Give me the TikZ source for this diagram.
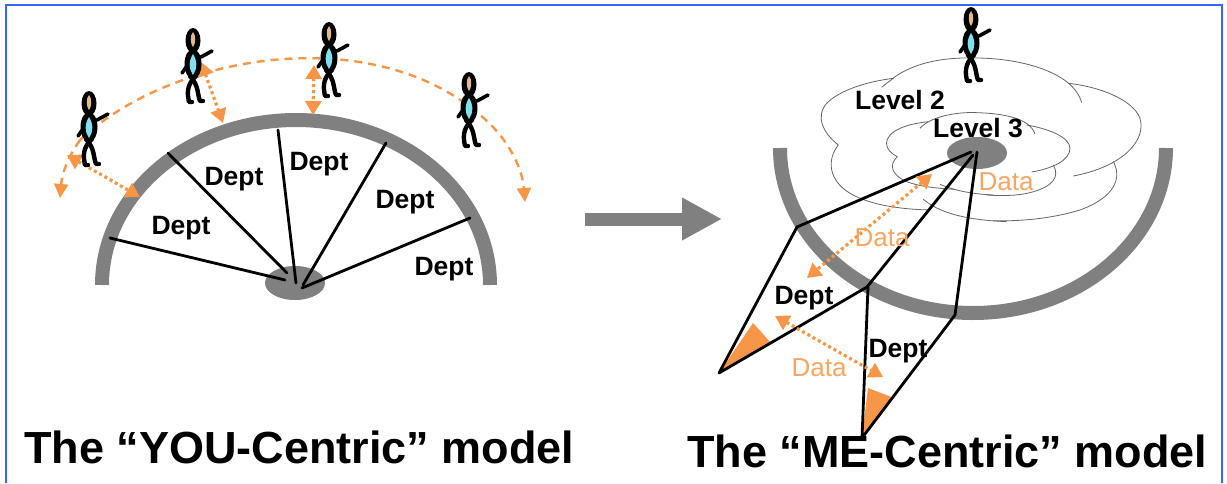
\documentclass[tikz,border=0pt]{standalone}
\usepackage{fontspec}
\setmainfont{Liberation Sans}
\usetikzlibrary{arrows.meta}
\definecolor{og}{HTML}{F79646}
\definecolor{gr}{HTML}{808080}
\definecolor{bl}{HTML}{3366FF}
\definecolor{cy}{HTML}{80E0F0}
\definecolor{tn}{HTML}{E2BC88}
\tikzset{
  band/.style={draw=gr,line width=14pt},
  spoke/.style={draw=black,line width=2.8pt,line cap=round},
  cloudline/.style={draw=black!60,line width=0.8pt},
  dashedarc/.style={draw=og,line width=2.4pt,dash pattern=on 8pt off 6pt,-{Triangle[length=14pt,width=14pt]}},
  dottedlink/.style={draw=og,line width=3.2pt,dash pattern=on 3pt off 3pt,{Triangle[length=14pt,width=16pt]}-{Triangle[length=14pt,width=16pt]}},
  dept/.style={anchor=base,font=\fontsize{26.5}{30}\selectfont\bfseries,inner sep=0pt},
  datalabel/.style={anchor=base,font=\fontsize{26}{30}\selectfont,text=og!85!white,inner sep=0pt},
  titlelabel/.style={anchor=base west,font=\fontsize{45}{50}\selectfont\bfseries,inner sep=0pt},
  pics/person/.style={code={
    \draw[black,line width=3.6pt,line cap=round] (8,29) -- (19,23);
    \draw[black,line width=3.6pt,line cap=round] (-6,38) -- (-11,45);
    \draw[black,line width=4.4pt,line cap=round,line join=round] (-3,48) .. controls (6,58) and (4,65) .. (7,73) -- (10,73);
    \draw[black,line width=4.4pt,line cap=round,line join=round] (3,48) .. controls (-8,58) and (-5,68) .. (-4,74) -- (-1,74);
    \fill[black] (0,12.5) ellipse [x radius=7.5,y radius=12.5];
    \fill[black] (0,36) ellipse [x radius=8.5,y radius=15];
    \fill[black] (-3.5,20) rectangle (3.5,28);
    \fill[tn] (0,4) .. controls (-3.5,8) and (-2.5,16) .. (0,19) .. controls (2.5,16) and (3.5,8) .. (0,4) -- cycle;
    \fill[cy] (0,26) .. controls (-4.5,33) and (-4.5,41) .. (0,47) .. controls (4.5,41) and (4.5,33) .. (0,26) -- cycle;
  }}
}
\begin{document}
\begin{tikzpicture}[x=1pt,y=-1pt]
\useasboundingbox (0,0) rectangle (1227,483);
\fill[white] (0,0) rectangle (1227,483);
\draw[bl,line width=2pt] (6,483) -- (6,5) -- (1222,5) -- (1222,483);

% left model
\fill[gr] (295,283) ellipse [x radius=30,y radius=17];
\draw[band] (102,285) arc[start angle=180,end angle=360,x radius=194,y radius=165];
\draw[spoke] (110,238) -- (285,280);
\draw[spoke] (168,153) -- (287,273);
\draw[spoke] (278,130) -- (296,283);
\draw[spoke] (386,143) -- (303,285);
\draw[spoke] (470,218) -- (302,288);
\node[dept] (d1) at (234,185) {Dept};
\node[dept] (d2) at (181,234) {Dept};
\node[dept] (d3) at (319,170) {Dept};
\node[dept] (d4) at (405,208) {Dept};
\node[dept] (d5) at (444,275) {Dept};

\draw[dashedarc] (80,140) .. controls (66,160) and (62,175) .. (60,198);
\draw[dashedarc] (80,140) .. controls (170,55) and (370,20) .. (480,115) .. controls (505,135) and (522,165) .. (525,202);
\draw[dottedlink] (67,155) -- (140,197);
\draw[dottedlink] (201,62) -- (223,123);
\draw[dottedlink] (314,65) -- (313,115);

\pic at (89,91) {person};
\pic at (193,28) {person};
\pic at (329,22) {person};
\pic at (469,72) {person};

% arrow between the models
\draw[draw=gr,line width=13pt,-{Triangle[length=40pt,width=40pt]}] (585,219) -- (722,219);

% right model: clouds
\begin{scope}[shift={(760,0)},x=0.3333pt,y=-0.3333pt]
\draw[cloudline] (235,435) .. controls (190,400) and (165,350) .. (200,310) .. controls (240,270) and (320,245) .. (400,235);
\draw[cloudline] (365,262) .. controls (385,245) and (395,240) .. (405,230) .. controls (480,180) and (570,172) .. (650,174) .. controls (780,175) and (940,215) .. (965,308);
\draw[cloudline] (925,250) .. controls (1020,260) and (1120,300) .. (1140,355) .. controls (1160,420) and (1090,500) .. (940,528);
\draw[cloudline] (1060,485) .. controls (1085,530) and (1070,590) .. (960,630) .. controls (880,655) and (780,665) .. (700,662);
\draw[cloudline] (235,435) .. controls (200,480) and (205,540) .. (270,580) .. controls (330,615) and (420,628) .. (510,630);
\draw[cloudline] (490,598) .. controls (540,640) and (620,660) .. (740,665);
\draw[cloudline] (412,470) .. controls (370,450) and (365,410) .. (420,385) .. controls (450,372) and (480,368) .. (505,365);
\draw[cloudline] (480,385) .. controls (510,350) and (590,335) .. (650,338) .. controls (730,340) and (810,355) .. (825,402);
\draw[cloudline] (800,375) .. controls (860,385) and (930,410) .. (930,445) .. controls (930,480) and (880,505) .. (815,516);
\draw[cloudline] (880,495) .. controls (900,530) and (880,560) .. (810,578) .. controls (770,588) and (720,588) .. (680,585);
\draw[cloudline] (412,470) .. controls (385,495) and (395,525) .. (440,545) .. controls (480,560) and (530,565) .. (585,568);
\draw[cloudline] (540,553) .. controls (580,570) and (630,582) .. (700,585);
\end{scope}

\fill[gr] (977,153) ellipse [x radius=30,y radius=16];
\draw[band] (780,148) arc[start angle=180,end angle=0,x radius=193,y radius=165];

% right model: wedges
\fill[og] (719,373) -- (753,323) -- (771,343) -- cycle;
\fill[og] (862,437) -- (868,388) -- (894,398) -- cycle;
\draw[spoke,line join=round] (971,152) -- (797,227) -- (719,373) -- (867,287) -- (973,155);
\draw[spoke,line join=round] (977,152) -- (955,315) -- (862,438) -- (868,287);

\draw[dottedlink] (932,174) -- (807,278);
\draw[dottedlink] (775,316) -- (883,377);

\node[dept] (l2) at (900,109) {Level 2};
\node[dept] (l3) at (978,137) {Level 3};
\node[dept] (d6) at (804,304) {Dept};
\node[dept] (d7) at (898,357) {Dept};
\node[datalabel] (t1) at (1006,190) {Data};
\node[datalabel] (t2) at (882,246) {Data};
\node[datalabel] (t3) at (819,376) {Data};

\pic at (971,7) {person};

\node[titlelabel] (t4) at (24,463) {The “YOU-Centric” model};
\node[titlelabel] (t5) at (687,467) {The “ME-Centric” model};
\end{tikzpicture}
\end{document}
